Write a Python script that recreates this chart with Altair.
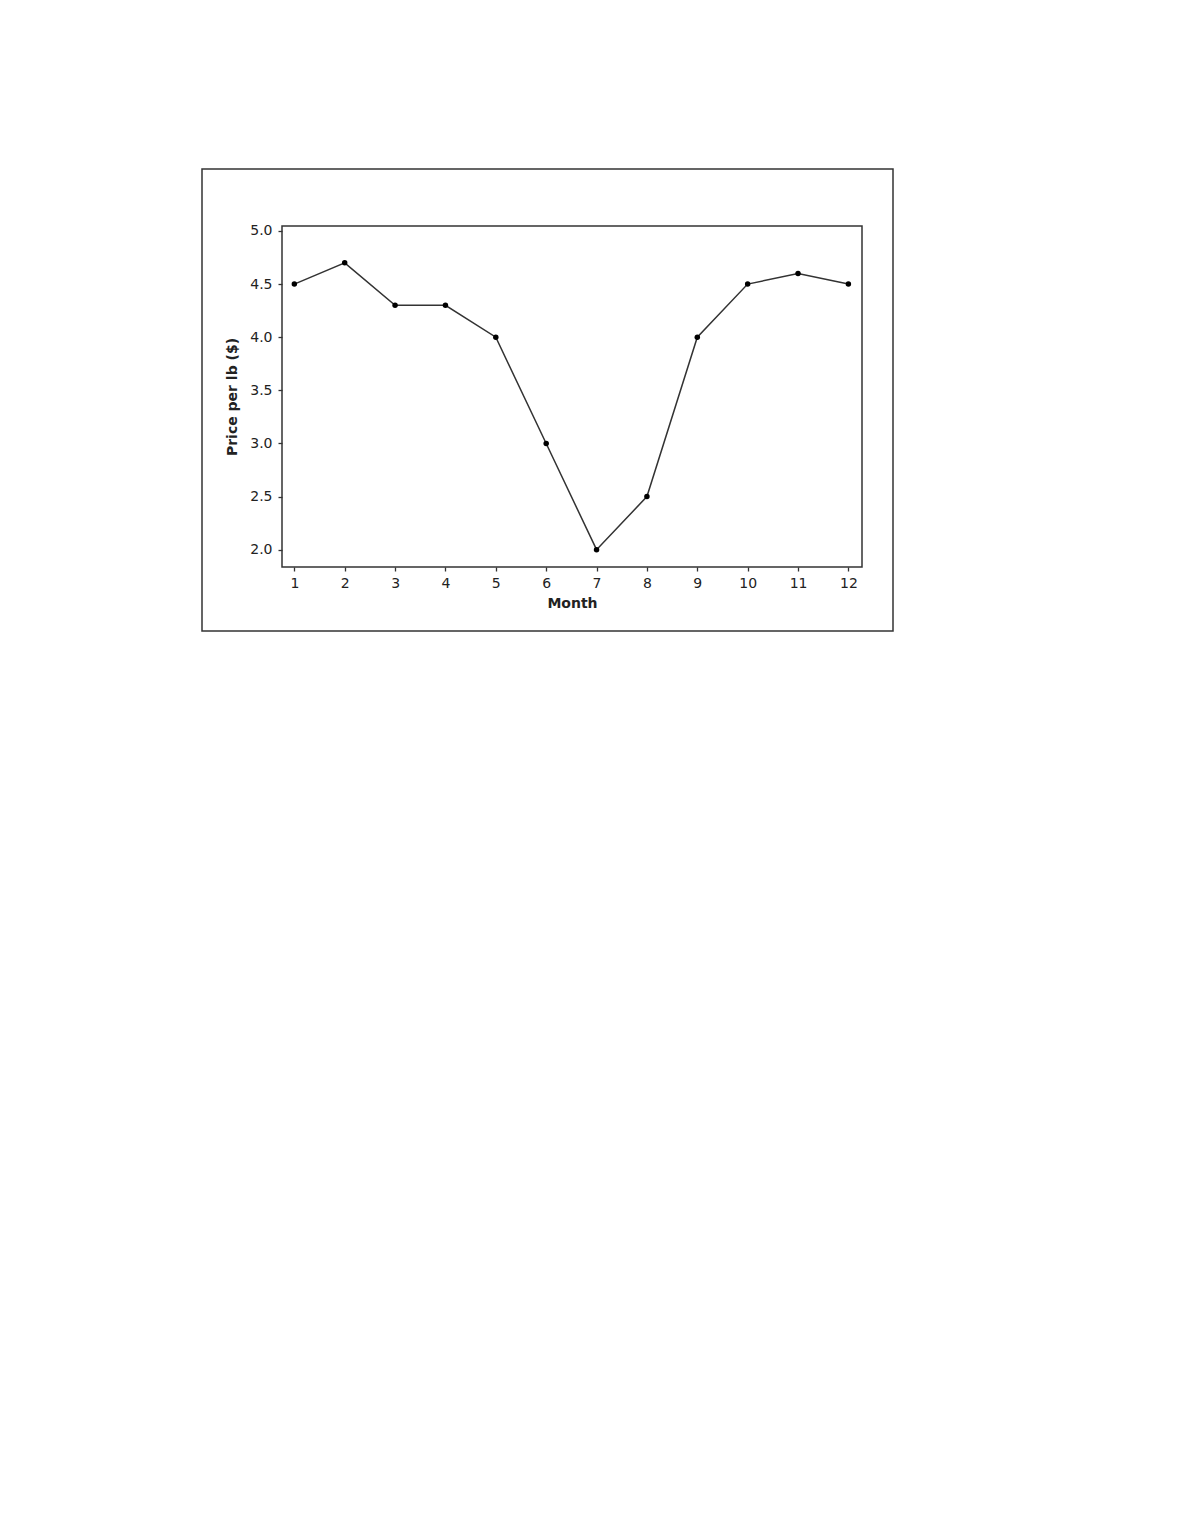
import altair as alt
import pandas as pd

months = [1, 2, 3, 4, 5, 6, 7, 8, 9, 10, 11, 12]
prices = [4.5, 4.7, 4.3, 4.3, 4.0, 3.0, 2.0, 2.5, 4.0, 4.5, 4.6, 4.5]
y_ticks = [2.0, 2.5, 3.0, 3.5, 4.0, 4.5, 5.0]

df = pd.DataFrame({"Month": months, "Price": prices})

FONT = "DejaVu Sans"
DARK = "#333333"

x_enc = alt.X("Month:Q", title="Month",
              scale=alt.Scale(domain=[0.755, 12.27], nice=False, zero=False),
              axis=alt.Axis(values=months, format="d", grid=False, domain=False,
                            tickSize=4, tickColor=DARK, tickWidth=1.3,
                            labelFont=FONT, labelFontSize=14, labelColor="#222",
                            labelPadding=5, titleFont=FONT, titleFontSize=14,
                            titleFontWeight="bold", titleColor="#222", titlePadding=6))
y_enc = alt.Y("Price:Q", title="Price per lb ($)",
              scale=alt.Scale(domain=[1.837, 5.047], nice=False, zero=False),
              axis=alt.Axis(values=y_ticks, format=".1f", grid=False, domain=False,
                            tickSize=4, tickColor=DARK, tickWidth=1.3,
                            labelFont=FONT, labelFontSize=14, labelColor="#222",
                            labelPadding=6, titleFont=FONT, titleFontSize=14,
                            titleFontWeight="bold", titleColor="#222", titlePadding=10))

line = alt.Chart(df).mark_line(color=DARK, strokeWidth=1.5).encode(x=x_enc, y=y_enc)
pts = alt.Chart(df).mark_point(filled=True, color="#000", size=30, opacity=1).encode(
    x="Month:Q", y="Price:Q")

frame = alt.Chart(df.head(1)).mark_rect(fill=None, stroke=DARK, strokeWidth=1.5).encode(
    x=alt.value(-80), x2=alt.value(611), y=alt.value(-57), y2=alt.value(405))

chart = alt.layer(frame, line, pts).properties(
    width=580, height=341,
    padding={"left": 193, "top": 160, "right": 20, "bottom": 20},
    background="white",
).configure_view(stroke=DARK, strokeWidth=1.5)

chart.save("out.html", embed_options={"renderer": "svg", "actions": False})
